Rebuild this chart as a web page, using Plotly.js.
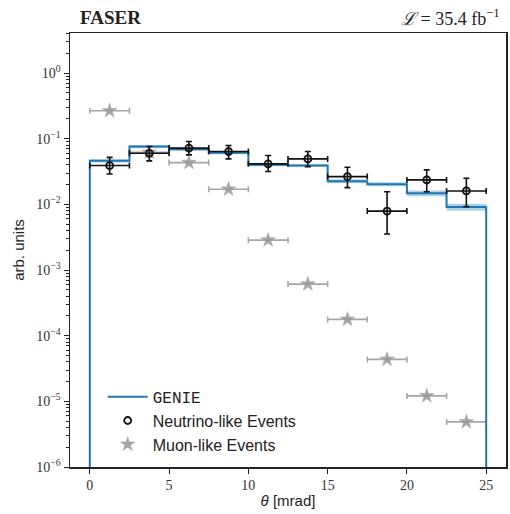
<!DOCTYPE html>
<html>
<head>
<meta charset="utf-8">
<script src="https://cdn.plot.ly/plotly-3.0.1.min.js"></script>
<style>html,body{margin:0;padding:0;background:#fff;}#chart{width:510px;height:514px;}</style>
</head>
<body>
<div id="chart"></div>
<script>
// Bin edges (mrad)
const binEdges = [0, 2.5, 5, 7.5, 10, 12.5, 15, 17.5, 20, 22.5, 25];
// GENIE prediction per bin and relative band half-width
const genie = [0.046, 0.076, 0.069, 0.061, 0.040, 0.039, 0.0225, 0.0203, 0.0148, 0.0091];
const genieRelErr = [0.06, 0.05, 0.05, 0.05, 0.05, 0.05, 0.07, 0.07, 0.10, 0.12];
// Neutrino-like events
const nuVal = [0.039, 0.060, 0.072, 0.0638, 0.0414, 0.0493, 0.0265, 0.0079, 0.0236, 0.016];
const nuUp  = [0.052, 0.076, 0.0906, 0.0787, 0.0554, 0.064, 0.0368, 0.0156, 0.0335, 0.025];
const nuLo  = [0.029, 0.046, 0.0567, 0.0493, 0.0316, 0.0376, 0.018, 0.00354, 0.0156, 0.00924];
// Muon-like events
const muVal = [0.266, 0.062, 0.0433, 0.017, 0.00285, 0.00061, 0.000177, 0.0000435, 0.0000121, 0.00000486];
const yTickVals = [1e-6, 1e-5, 1e-4, 1e-3, 1e-2, 1e-1, 1];
const yTickText = ['10<sup>−6</sup>', '10<sup>−5</sup>', '10<sup>−4</sup>', '10<sup>−3</sup>', '10<sup>−2</sup>', '10<sup>−1</sup>', '10<sup>0</sup>'];
const xTickVals = [0, 5, 10, 15, 20, 25];

const nb = genie.length;
const centers = [], halfW = [];
for (let i = 0; i < nb; i++) {
  centers.push((binEdges[i] + binEdges[i + 1]) / 2);
  halfW.push((binEdges[i + 1] - binEdges[i]) / 2);
}
const yFloor = 1e-6;
function bandXY(vals) {
  const x = [], y = [];
  for (let i = 0; i < nb; i++) { x.push(binEdges[i]); y.push(vals[i]); }
  x.push(binEdges[nb]); y.push(vals[nb - 1]);
  return {x, y};
}
const lower = bandXY(genie.map((v, i) => v * (1 - genieRelErr[i])));
const upper = bandXY(genie.map((v, i) => v * (1 + genieRelErr[i])));
const main = bandXY(genie);
const mainX = [binEdges[0]].concat(main.x, [binEdges[nb]]);
const mainY = [yFloor].concat(main.y, [yFloor]);

const blue = '#1f77b4';
const gray = 'rgba(150,150,150,0.85)';
const traces = [
  {x: lower.x, y: lower.y, mode: 'lines', line: {shape: 'hv', width: 0, color: 'rgba(0,0,0,0)'},
   showlegend: false, hoverinfo: 'skip'},
  {x: upper.x, y: upper.y, mode: 'lines', line: {shape: 'hv', width: 0, color: 'rgba(0,0,0,0)'},
   fill: 'tonexty', fillcolor: 'rgba(31,119,180,0.35)', showlegend: false, hoverinfo: 'skip'},
  {x: centers, y: muVal, mode: 'markers', name: 'Muon-like Events', legendrank: 3,
   marker: {symbol: 'star', size: 11, color: gray, line: {width: 0.6, color: 'rgba(170,170,170,0.9)'}},
   error_x: {type: 'data', array: halfW, color: gray, thickness: 1.6, width: 3}},
  {x: mainX, y: mainY, mode: 'lines', name: '<span style="font-family:Liberation Mono">GENIE</span>', legendrank: 1,
   line: {shape: 'hv', width: 2, color: blue}},
  {x: centers, y: nuVal, mode: 'markers', name: 'Neutrino-like Events', legendrank: 2,
   marker: {symbol: 'circle-open', size: 7, color: '#111', line: {width: 1.8, color: '#111'}},
   error_y: {type: 'data', symmetric: false, array: nuUp.map((u, i) => u - nuVal[i]),
             arrayminus: nuVal.map((v, i) => v - nuLo[i]), color: '#111', thickness: 1.6, width: 3},
   error_x: {type: 'data', array: halfW, color: '#111', thickness: 1.6, width: 3}}
];

const axisFont = {family: 'Liberation Serif, DejaVu Serif, serif', size: 14, color: '#333'};
const layout = {
  width: 510, height: 514,
  margin: {l: 70, r: 4, t: 33, b: 47},
  paper_bgcolor: '#fff', plot_bgcolor: '#fff',
  showlegend: true,
  legend: {x: 0.075, y: 0.012, xanchor: 'left', yanchor: 'bottom', bgcolor: 'rgba(255,255,255,0)',
           traceorder: 'normal',
           font: {family: 'Liberation Sans, Arial, sans-serif', size: 16, color: '#222'},
           tracegroupgap: 0, itemwidth: 40},
  xaxis: {range: [-1.25, 26.25], tickvals: xTickVals, ticks: 'outside', ticklen: 5, tickwidth: 1,
          tickcolor: '#222', showline: true, linecolor: '#222', linewidth: 1.5, mirror: true,
          showgrid: false, zeroline: false, tickfont: axisFont,
          title: {text: '<i>θ</i> [mrad]', font: {family: 'Liberation Sans, Arial, sans-serif', size: 15, color: '#222'}, standoff: 3}},
  yaxis: {type: 'log', range: [-6, 0.61], tickvals: yTickVals, ticktext: yTickText, ticks: 'outside',
          ticklen: 5, tickwidth: 1, tickcolor: '#222', showline: true, linecolor: '#222', linewidth: 1.5,
          mirror: true, showgrid: false, zeroline: false, tickfont: axisFont,
          minor: {ticks: 'outside', ticklen: 3, tickcolor: '#222', showgrid: false,
                  tickvals: (function () { const a = []; for (let e = -6; e <= 0; e++) for (let m = 2; m <= 9; m++) a.push(m * Math.pow(10, e)); return a; })()},
          title: {text: 'arb. units', font: {family: 'Liberation Sans, Arial, sans-serif', size: 15, color: '#222'}, standoff: 8}},
  annotations: [
    {text: '<b>FASER</b>', xref: 'paper', yref: 'paper', x: 0, y: 1, xanchor: 'left', yanchor: 'bottom',
     xshift: 8, yshift: 3, showarrow: false, font: {family: 'Liberation Serif, DejaVu Serif, serif', size: 19, color: '#222'}},
    {text: '<i>ℒ</i> = 35.4 fb<sup>−1</sup>', xref: 'paper', yref: 'paper', x: 1, y: 1, xanchor: 'right', yanchor: 'bottom',
     xshift: -4, yshift: 2, showarrow: false, font: {family: 'Liberation Serif, DejaVu Serif, serif', size: 18, color: '#222'}}
  ]
};
Plotly.newPlot('chart', traces, layout, {displayModeBar: false, staticPlot: true});
</script>
</body>
</html>
